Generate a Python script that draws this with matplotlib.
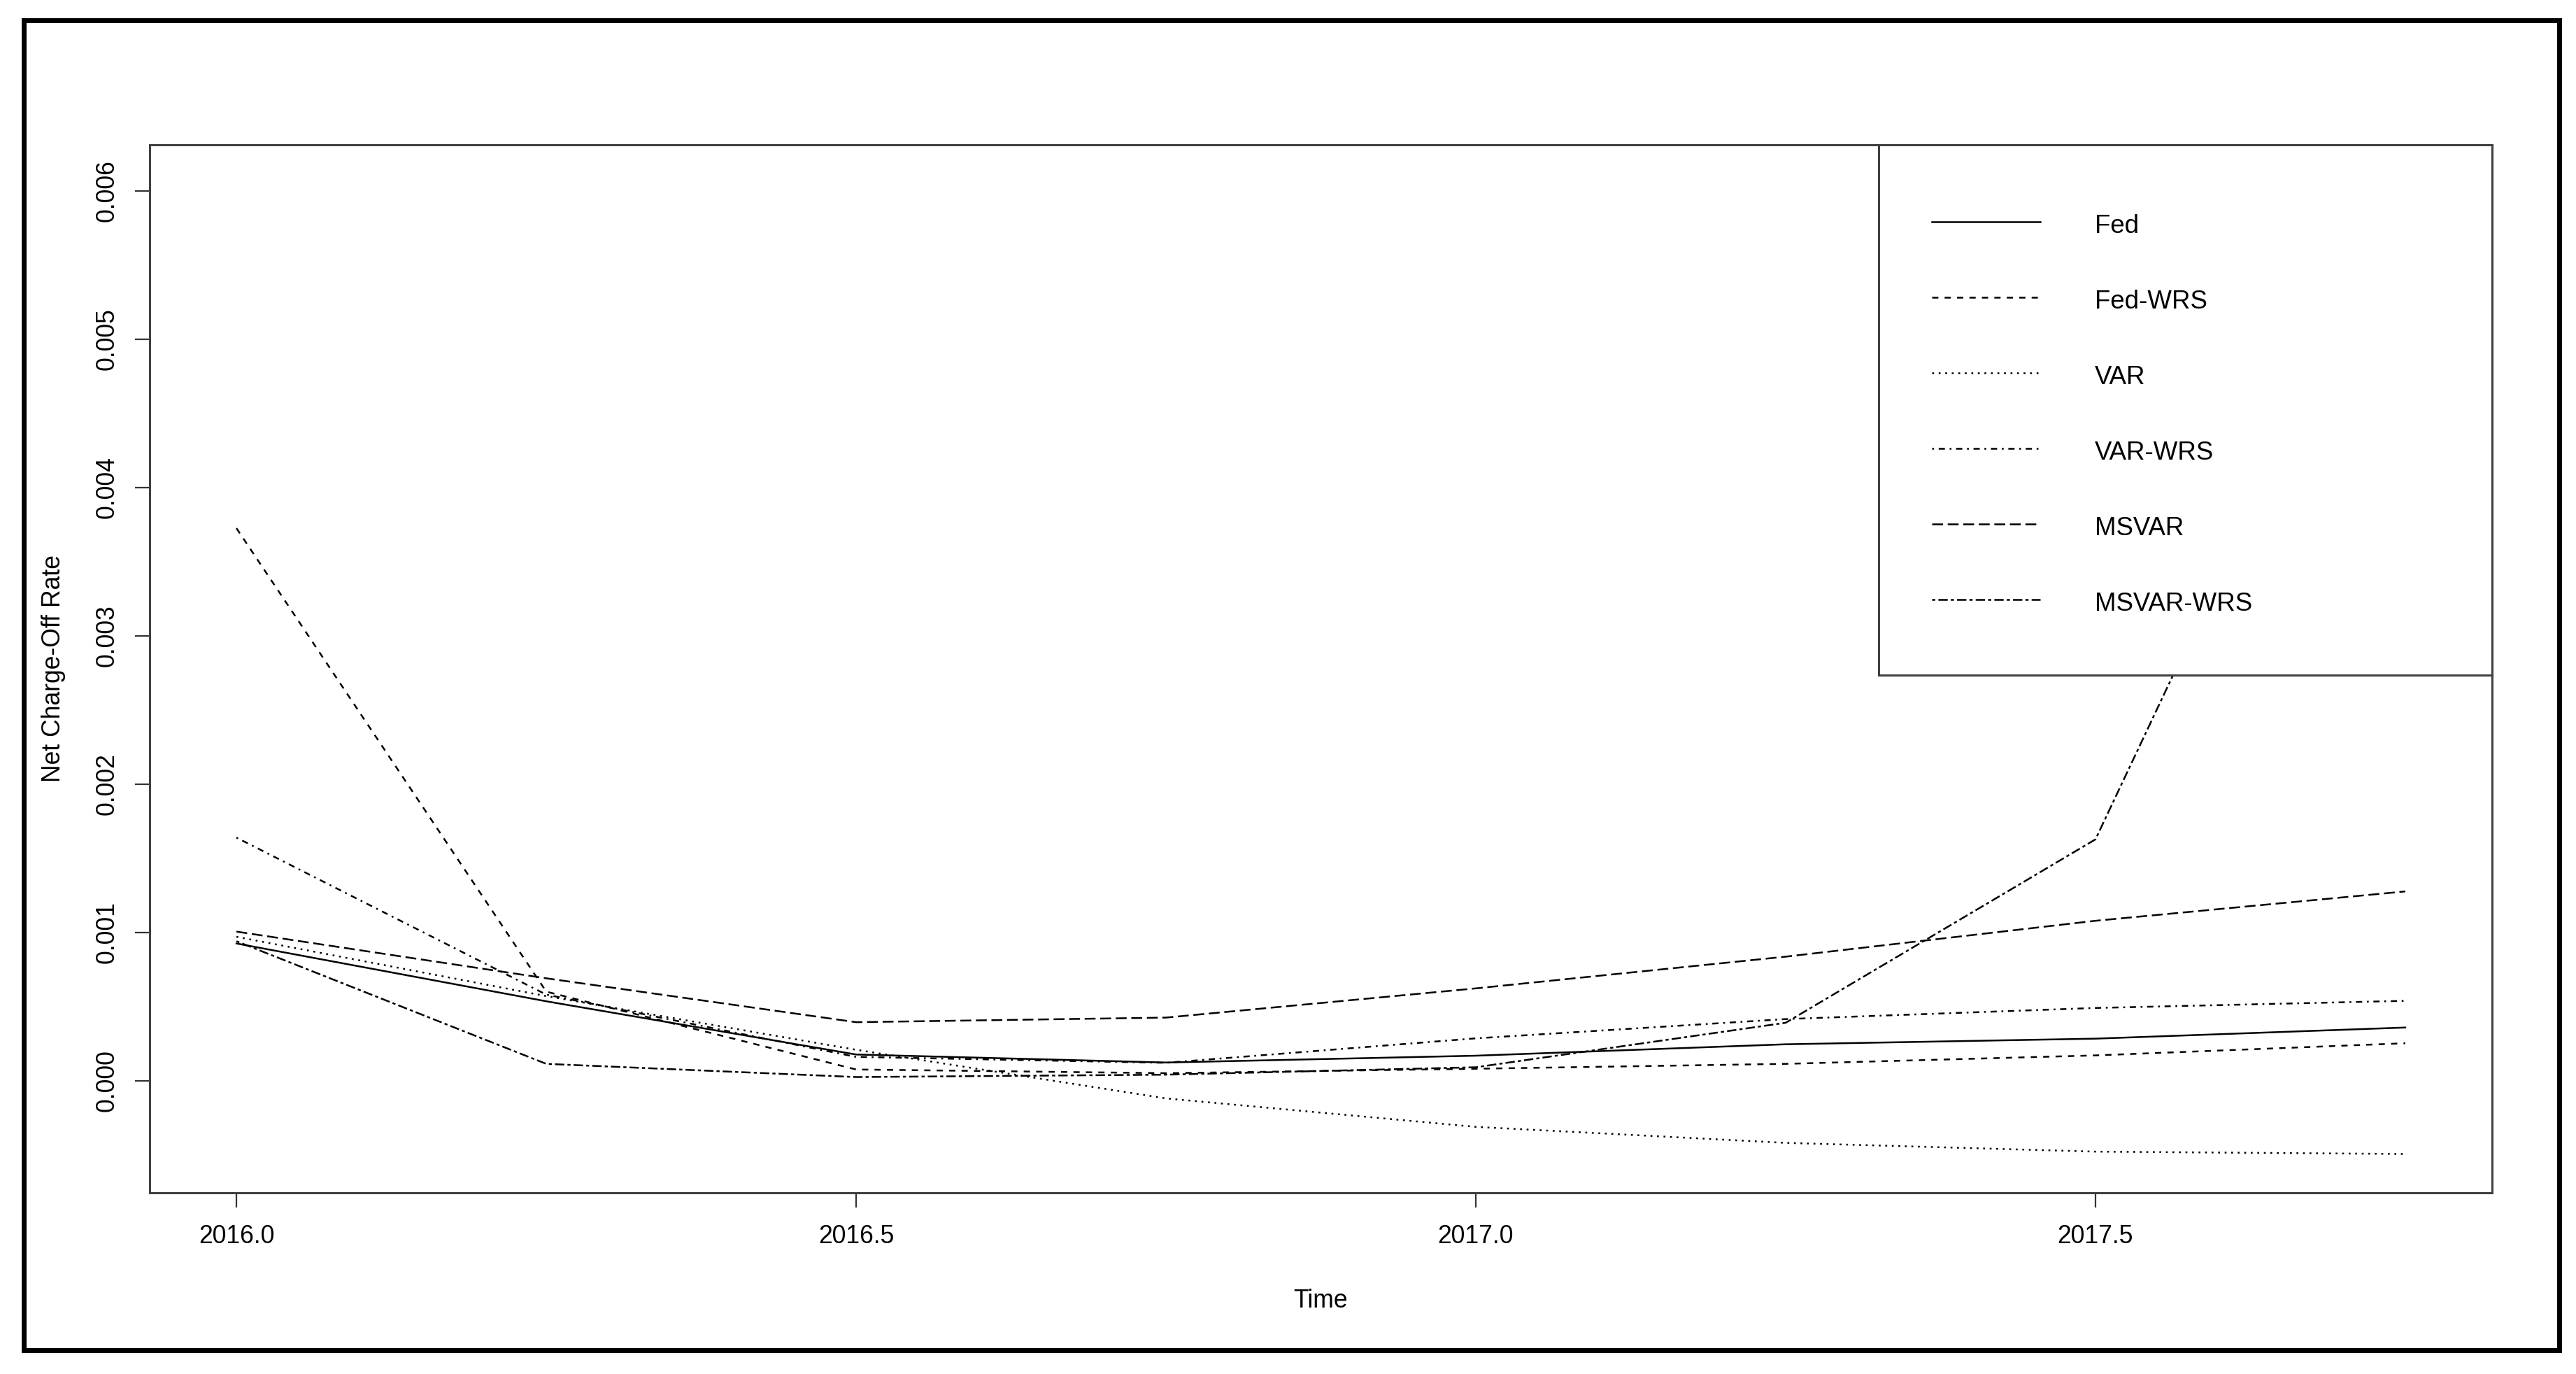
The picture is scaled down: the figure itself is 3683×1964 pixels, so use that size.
import numpy as np
import matplotlib
matplotlib.use("Agg")
import matplotlib.pyplot as plt
from matplotlib.patches import Rectangle
from matplotlib.ticker import MultipleLocator, FormatStrFormatter

plt.rcParams['font.family'] = ['Liberation Sans', 'DejaVu Sans']
plt.rcParams['lines.scale_dashes'] = False

# quarterly forecast horizon
time = [2016.0, 2016.25, 2016.5, 2016.75, 2017.0, 2017.25, 2017.5, 2017.75]

fed = [0.000925, 0.000535, 0.000176, 0.000122, 0.000168, 0.000245, 0.000283, 0.000358]
fed_wrs = [0.003726, 0.000600, 0.000075, 0.000050, 0.000080, 0.000113, 0.000170, 0.000252]
var = [0.000970, 0.000570, 0.000208, -0.000120, -0.000312, -0.000420, -0.000479, -0.000495]
var_wrs = [0.001639, 0.000580, 0.000160, 0.000120, 0.000285, 0.000415, 0.000490, 0.000538]
msvar = [0.001005, 0.000690, 0.000394, 0.000425, 0.000622, 0.000836, 0.001078, 0.001276]
msvar_wrs = [0.000940, 0.000113, 0.000024, 0.000040, 0.000090, 0.000390, 0.001627, 0.006050]

labels = ['Fed', 'Fed-WRS', 'VAR', 'VAR-WRS', 'MSVAR', 'MSVAR-WRS']
series = [fed, fed_wrs, var, var_wrs, msvar, msvar_wrs]

# R lty 1..6, unit ~0.8pt
u = 0.8
dash_styles = [
    None,
    (0, (4 * u, 4 * u)),
    (0, (1.2 * u, 3 * u)),
    (0, (1.2 * u, 3 * u, 4 * u, 3 * u)),
    (0, (7 * u, 3 * u)),
    (0, (2 * u, 2 * u, 6 * u, 2 * u)),
]

W, H, DPI = 3683, 1964, 200
fig = plt.figure(figsize=(W / DPI, H / DPI), dpi=DPI)
ax = fig.add_axes([214 / W, 1 - 1705 / H, (3563 - 214) / W, (1705 - 207) / H])

lw = 0.9
for ys, ls in zip(series, dash_styles):
    if ls is None:
        ax.plot(time, ys, color='black', lw=lw, linestyle='-')
    else:
        ax.plot(time, ys, color='black', lw=lw, linestyle=ls)

ax.margins(x=0.04, y=0.04)

ax.xaxis.set_major_locator(MultipleLocator(0.5))
ax.xaxis.set_major_formatter(FormatStrFormatter('%.1f'))
ax.yaxis.set_major_locator(MultipleLocator(0.001))
ax.yaxis.set_major_formatter(FormatStrFormatter('%.3f'))

fs = 12.8
ax.tick_params(axis='both', direction='out', length=7.6, width=0.8,
               color='#333333', labelsize=fs)
ax.tick_params(axis='x', pad=8.6)
ax.tick_params(axis='y', pad=7.9)
for lab in ax.get_yticklabels():
    lab.set_rotation(90)
    lab.set_va('center')

for sp in ax.spines.values():
    sp.set_color('#404040')
    sp.set_linewidth(1.1)

ax.set_xlabel('Time', fontsize=fs, labelpad=20.5)
ax.set_ylabel('Net Charge-Off Rate', fontsize=fs, labelpad=15)

# legend box, drawn R style over the plot
leg = fig.add_axes([2686 / W, 1 - 965 / H, (3563 - 2686) / W, (965 - 207) / H])
leg.set_xlim(0, 1)
leg.set_ylim(0, 1)
leg.set_xticks([])
leg.set_yticks([])
leg.set_facecolor('white')
for sp in leg.spines.values():
    sp.set_color('#404040')
    sp.set_linewidth(1.1)
for i, (name, ls) in enumerate(zip(labels, dash_styles)):
    y = 0.855 - i * 0.1424
    leg.plot([0.087, 0.263], [y, y], color='black', lw=lw,
             linestyle='-' if ls is None else ls)
    leg.text(0.352, y - 0.009, name, fontsize=fs + 0.4, va='center', ha='left')

# outer frame
fig.patches.append(Rectangle((34 / W, 1 - 1929.5 / H), (3658.5 - 34) / W,
                             (1929.5 - 29) / H, transform=fig.transFigure,
                             fill=False, edgecolor='black', lw=2.5))

fig.savefig('out.png', dpi=DPI, facecolor='white')
